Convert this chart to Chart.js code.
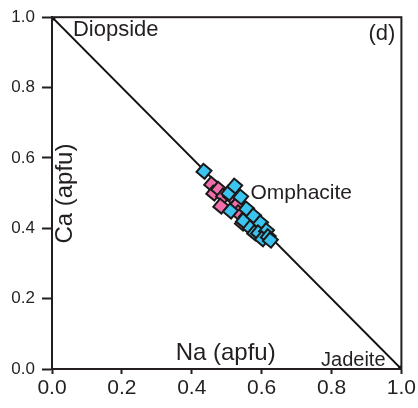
<!DOCTYPE html>
<html>
<head>
<meta charset="utf-8">
<script src="https://cdn.jsdelivr.net/npm/chart.js@4"></script>
<style>
  body { margin: 0; background: #fff; }
  #wrap { width: 418px; height: 408px; }
</style>
</head>
<body>
<div id="wrap"><canvas id="myChart"></canvas></div>
<script>
// data
var ticks = [0, 0.2, 0.4, 0.6, 0.8, 1.0];
var pinkNa = [0.457, 0.463, 0.477, 0.491, 0.483, 0.511, 0.526, 0.534, 0.557, 0.545, 0.577, 0.597, 0.553];
var pinkCa = [0.525, 0.500, 0.511, 0.492, 0.463, 0.492, 0.463, 0.444, 0.435, 0.415, 0.415, 0.384, 0.428];
var cyanNa = [0.435, 0.506, 0.523, 0.540, 0.511, 0.557, 0.548, 0.577, 0.568, 0.597, 0.580, 0.591, 0.614, 0.602, 0.619, 0.625];
var cyanCa = [0.562, 0.500, 0.520, 0.489, 0.449, 0.455, 0.421, 0.435, 0.401, 0.415, 0.387, 0.387, 0.393, 0.370, 0.376, 0.366];
var lineNa = [0, 1];
var lineCa = [1, 0];

function pts(xs, ys) {
  return xs.map(function (x, i) { return { x: x, y: ys[i] }; });
}

var font = "'Liberation Sans', Arial, sans-serif";
var ink = "#231f20";

// box + labels drawn inside the plot
var textPlugin = {
  id: "texts",
  afterDraw: function (chart) {
    var c = chart.ctx, a = chart.chartArea;
    var xs = chart.scales.x, ys = chart.scales.y;
    c.save();
    c.strokeStyle = ink;
    c.lineWidth = 2;
    c.strokeRect(a.left, a.top, a.right - a.left, a.bottom - a.top);
    c.fillStyle = ink;
    c.textBaseline = "alphabetic";
    c.textAlign = "left";
    c.font = "22px " + font;
    c.fillText("Diopside", xs.getPixelForValue(0.06), ys.getPixelForValue(0.946));
    c.textAlign = "right";
    c.fillText("(d)", a.right - 6, ys.getPixelForValue(0.935));
    c.textAlign = "left";
    c.font = "21px " + font;
    c.fillText("Omphacite", xs.getPixelForValue(0.568), ys.getPixelForValue(0.483));
    c.font = "20px " + font;
    c.fillText("Jadeite", xs.getPixelForValue(0.77), ys.getPixelForValue(0.008));
    c.font = "24px " + font;
    c.textAlign = "center";
    c.fillText("Na (apfu)", xs.getPixelForValue(0.497), ys.getPixelForValue(0.025));
    c.translate(xs.getPixelForValue(0.057), ys.getPixelForValue(0.4986));
    c.rotate(-Math.PI / 2);
    c.fillText("Ca (apfu)", 0, 0);
    c.restore();
  }
};

new Chart("myChart", {
  type: "scatter",
  data: {
    datasets: [
      {
        type: "line",
        data: pts(lineNa, lineCa),
        borderColor: "#111",
        borderWidth: 2,
        pointRadius: 3.5,
        pointBackgroundColor: "#111",
        pointBorderWidth: 0,
        order: 3
      },
      {
        data: pts(pinkNa, pinkCa),
        backgroundColor: "#F06EA9",
        borderColor: "#1a1a1a",
        borderWidth: 2,
        pointStyle: "rect",
        rotation: 40,
        radius: 7.5,
        order: 2
      },
      {
        data: pts(cyanNa, cyanCa),
        backgroundColor: "#3CC4F0",
        borderColor: "#1a1a1a",
        borderWidth: 2,
        pointStyle: "rect",
        rotation: 40,
        radius: 7.5,
        order: 1
      }
    ]
  },
  options: {
    responsive: true,
    maintainAspectRatio: false,
    animation: false,
    layout: { padding: { top: 15, right: 14, left: 0, bottom: 0 } },
    plugins: { legend: { display: false }, tooltip: { enabled: false } },
    scales: {
      x: {
        type: "linear", min: 0, max: 1,
        afterBuildTicks: function (s) { s.ticks = ticks.map(function (v) { return { value: v }; }); },
        afterFit: function (s) { s.height = 39; },
        grid: { drawOnChartArea: false, drawTicks: true, tickLength: 5, tickWidth: 2, tickColor: ink },
        border: { display: true, color: ink, width: 2 },
        ticks: { color: ink, font: { family: font, size: 21 }, padding: 2, maxRotation: 0,
          callback: function (v) { return v.toFixed(1); } }
      },
      y: {
        type: "linear", min: 0, max: 1,
        afterBuildTicks: function (s) { s.ticks = ticks.map(function (v) { return { value: v }; }); },
        afterFit: function (s) { s.width = 52; },
        grid: { drawOnChartArea: false, drawTicks: true, tickLength: 10, tickWidth: 2, tickColor: ink },
        border: { display: true, color: ink, width: 2 },
        ticks: { color: ink, font: { family: font, size: 17 }, padding: 7,
          callback: function (v) { return v.toFixed(1); } }
      }
    }
  },
  plugins: [textPlugin]
});
</script>
</body>
</html>
